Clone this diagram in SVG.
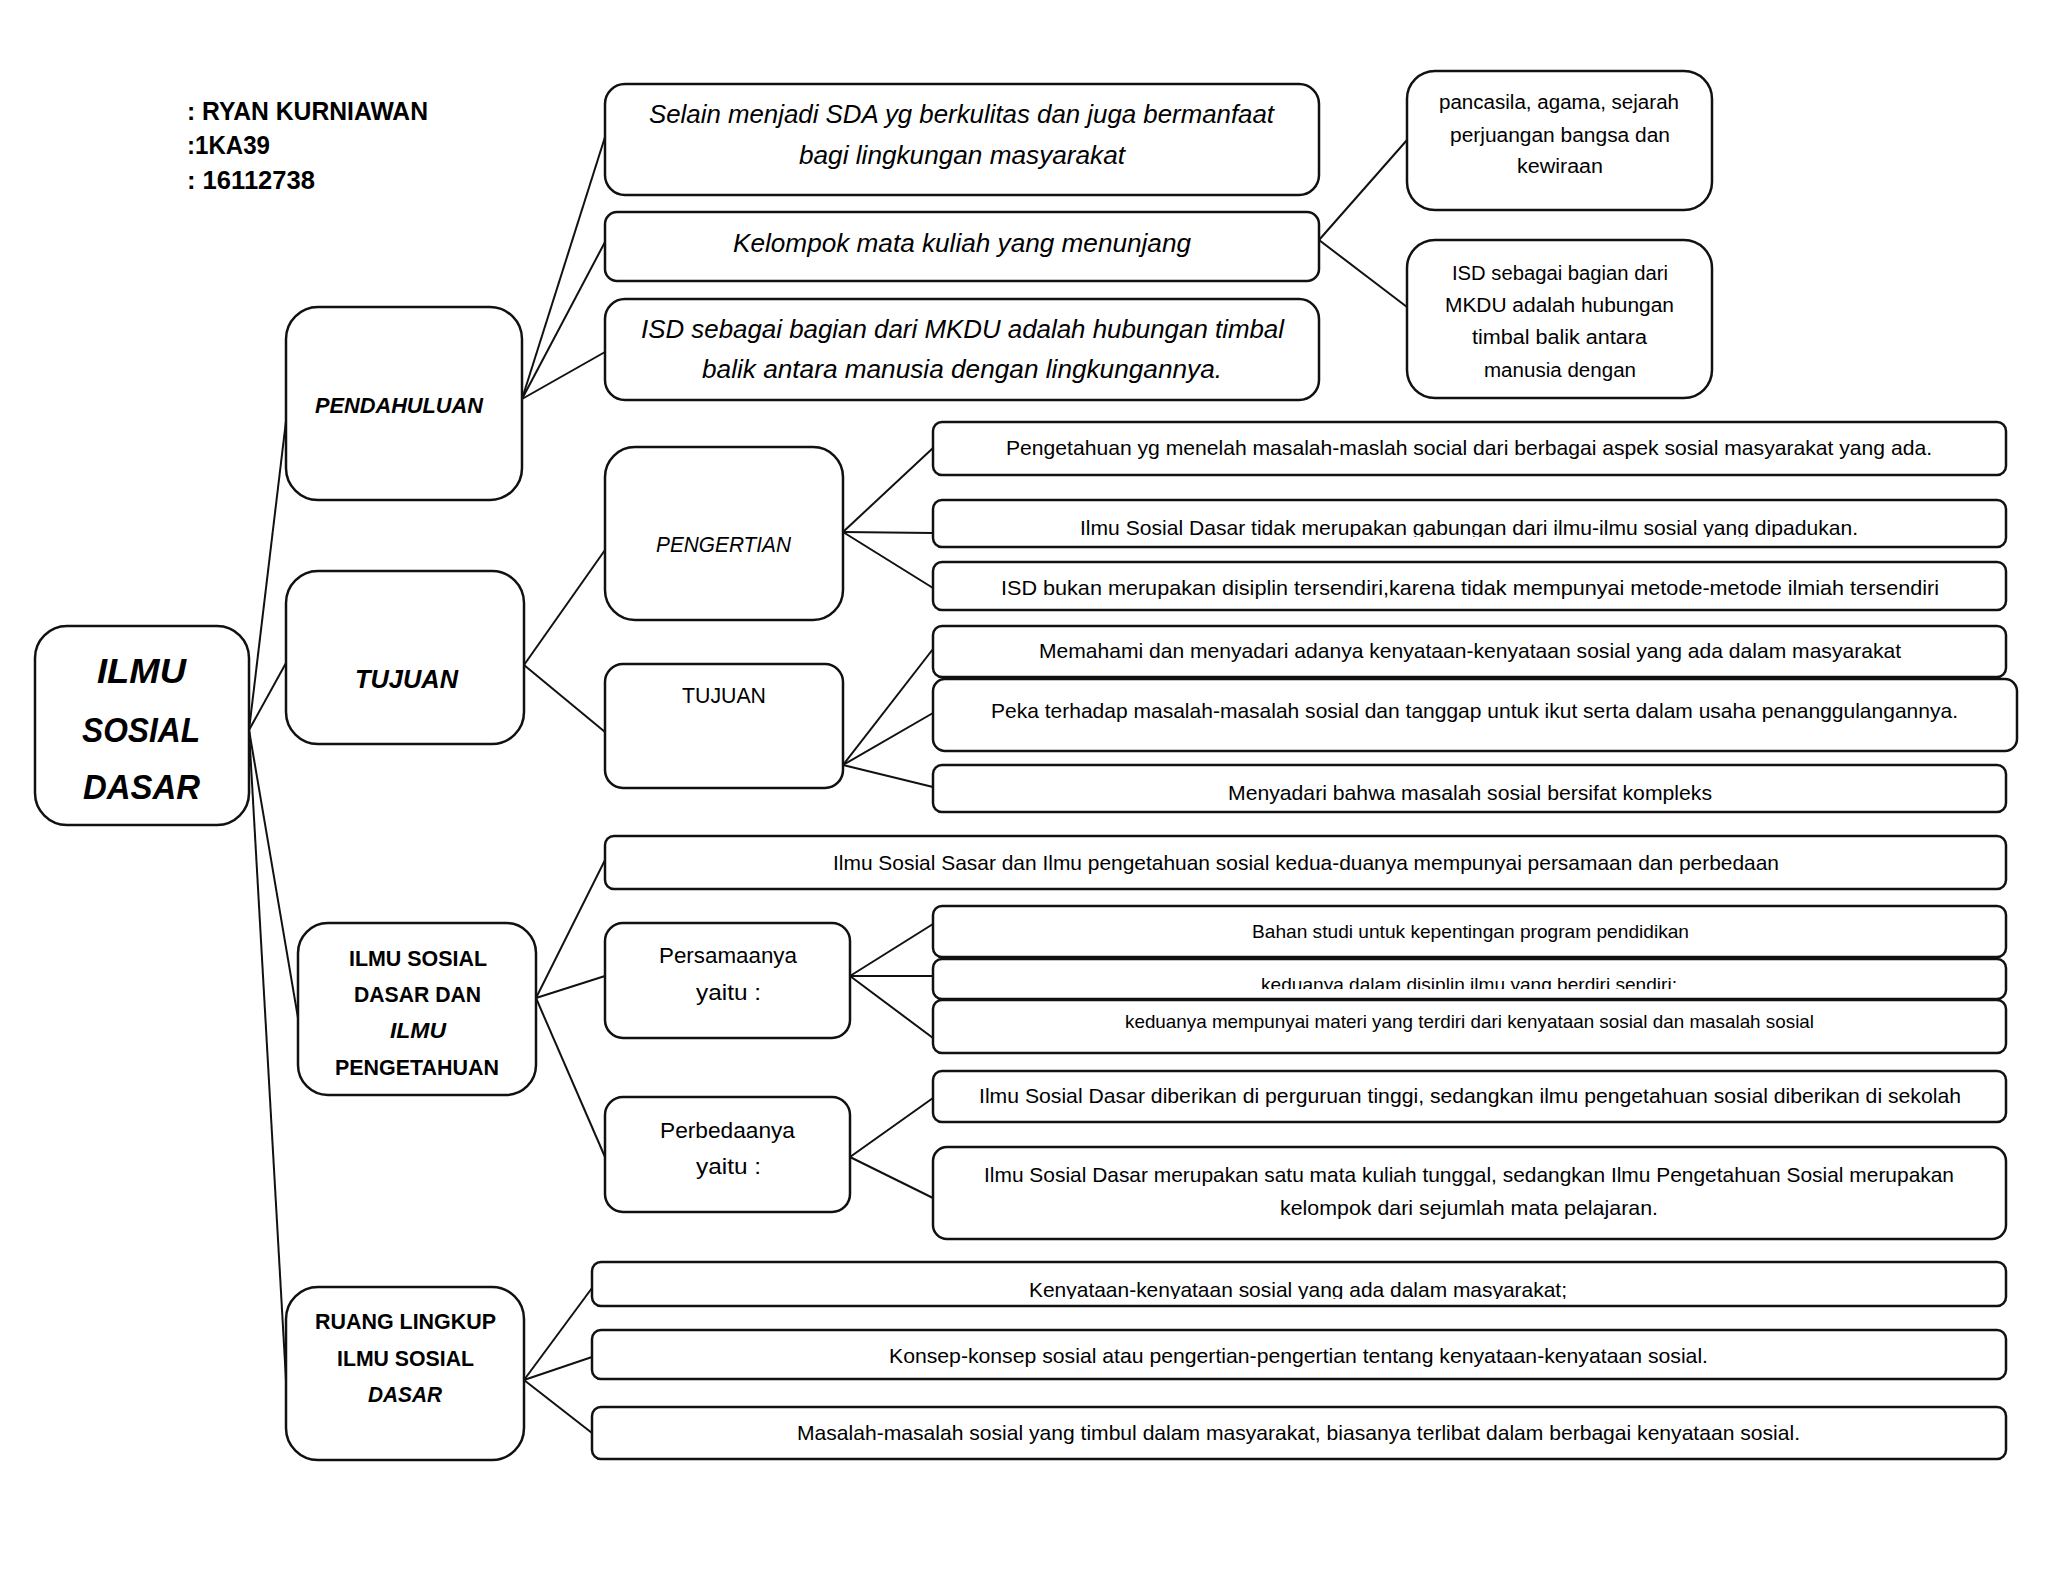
<svg xmlns="http://www.w3.org/2000/svg" width="2048" height="1582" viewBox="0 0 2048 1582">
<style>
.bx{fill:#fff;stroke:#111;stroke-width:2.5}
.ln{stroke:#111;stroke-width:2;fill:none}
text{font-family:"Liberation Sans",Arial,sans-serif;fill:#000}
.hd{font-size:25px;font-weight:bold}
.bi{font-weight:bold;font-style:italic}
.b{font-weight:bold}
.it{font-style:italic}
.t20{font-size:21px}
.t18{font-size:19px}
.t19{font-size:20px}
.t22{font-size:22px}
.t25{font-size:26px}
</style>
<defs>
<clipPath id="cP2"><rect x="933" y="500" width="1073" height="37"/></clipPath>
<clipPath id="cS2"><rect x="933" y="959" width="1073" height="30"/></clipPath>
<clipPath id="cR1"><rect x="592" y="1262" width="1414" height="37"/></clipPath>
</defs>

<g id="header">
<text class="hd" x="187" y="120" textLength="241" lengthAdjust="spacingAndGlyphs">: RYAN KURNIAWAN</text>
<text class="hd" x="187" y="154" textLength="83" lengthAdjust="spacingAndGlyphs">:1KA39</text>
<text class="hd" x="187" y="189" textLength="128" lengthAdjust="spacingAndGlyphs">: 16112738</text>
</g>

<g id="connectors">
<line class="ln" x1="249" y1="730" x2="286" y2="421"/>
<line class="ln" x1="249" y1="730" x2="286" y2="663"/>
<line class="ln" x1="249" y1="730" x2="298" y2="1018"/>
<line class="ln" x1="249" y1="730" x2="286" y2="1380"/>
<line class="ln" x1="522" y1="399" x2="605" y2="137"/>
<line class="ln" x1="522" y1="399" x2="605" y2="242"/>
<line class="ln" x1="522" y1="399" x2="605" y2="352"/>
<line class="ln" x1="1319" y1="240" x2="1407" y2="140"/>
<line class="ln" x1="1319" y1="240" x2="1407" y2="307"/>
<line class="ln" x1="524" y1="665" x2="605" y2="550"/>
<line class="ln" x1="524" y1="665" x2="605" y2="732"/>
<line class="ln" x1="843" y1="532" x2="933" y2="448"/>
<line class="ln" x1="843" y1="532" x2="933" y2="533"/>
<line class="ln" x1="843" y1="532" x2="933" y2="588"/>
<line class="ln" x1="843" y1="765" x2="933" y2="649"/>
<line class="ln" x1="843" y1="765" x2="933" y2="713"/>
<line class="ln" x1="843" y1="765" x2="933" y2="787"/>
<line class="ln" x1="536" y1="998" x2="605" y2="860"/>
<line class="ln" x1="536" y1="998" x2="605" y2="976"/>
<line class="ln" x1="536" y1="998" x2="605" y2="1157"/>
<line class="ln" x1="850" y1="976" x2="933" y2="924"/>
<line class="ln" x1="850" y1="976" x2="933" y2="976"/>
<line class="ln" x1="850" y1="976" x2="933" y2="1038"/>
<line class="ln" x1="850" y1="1157" x2="933" y2="1098"/>
<line class="ln" x1="850" y1="1157" x2="933" y2="1198"/>
<line class="ln" x1="524" y1="1380" x2="592" y2="1288"/>
<line class="ln" x1="524" y1="1380" x2="592" y2="1357"/>
<line class="ln" x1="524" y1="1380" x2="592" y2="1433"/>
</g>

<g id="n-root">
<rect class="bx" x="35" y="626" width="214" height="199" rx="32"/>
<text class="bi" font-size="35" x="97" y="683" textLength="89" lengthAdjust="spacingAndGlyphs">ILMU</text>
<text class="bi" font-size="35" x="82" y="742" textLength="118" lengthAdjust="spacingAndGlyphs">SOSIAL</text>
<text class="bi" font-size="35" x="83" y="799" textLength="117" lengthAdjust="spacingAndGlyphs">DASAR</text>
</g>

<g id="n-pendahuluan">
<rect class="bx" x="286" y="307" width="236" height="193" rx="32"/>
<text class="bi" font-size="22" x="315" y="413" textLength="168" lengthAdjust="spacingAndGlyphs">PENDAHULUAN</text>
</g>

<g id="n-tujuan1">
<rect class="bx" x="286" y="571" width="238" height="173" rx="32"/>
<text class="bi" font-size="26" x="355" y="688" textLength="103" lengthAdjust="spacingAndGlyphs">TUJUAN</text>
</g>

<g id="n-isd-ip">
<rect class="bx" x="298" y="923" width="238" height="172" rx="30"/>
<text class="b" font-size="22" x="349" y="966" textLength="138" lengthAdjust="spacingAndGlyphs">ILMU SOSIAL</text>
<text class="b" font-size="22" x="354" y="1002" textLength="127" lengthAdjust="spacingAndGlyphs">DASAR DAN</text>
<text class="bi" font-size="22" x="390" y="1038" textLength="56" lengthAdjust="spacingAndGlyphs">ILMU</text>
<text class="b" font-size="22" x="335" y="1075" textLength="164" lengthAdjust="spacingAndGlyphs">PENGETAHUAN</text>
</g>

<g id="n-ruang">
<rect class="bx" x="286" y="1287" width="238" height="173" rx="32"/>
<text class="b" font-size="22" x="315" y="1329" textLength="181" lengthAdjust="spacingAndGlyphs">RUANG LINGKUP</text>
<text class="b" font-size="22" x="337" y="1366" textLength="137" lengthAdjust="spacingAndGlyphs">ILMU SOSIAL</text>
<text class="bi" font-size="22" x="368" y="1402" textLength="74" lengthAdjust="spacingAndGlyphs">DASAR</text>
</g>

<g id="n-selain">
<rect class="bx" x="605" y="84" width="714" height="111" rx="20"/>
<text class="it t25" x="649" y="123" textLength="625" lengthAdjust="spacingAndGlyphs">Selain menjadi SDA yg berkulitas dan juga bermanfaat</text>
<text class="it t25" x="799" y="164" textLength="326" lengthAdjust="spacingAndGlyphs">bagi lingkungan masyarakat</text>
</g>

<g id="n-kelompok">
<rect class="bx" x="605" y="212" width="714" height="69" rx="12"/>
<text class="it t25" x="733" y="252" textLength="458" lengthAdjust="spacingAndGlyphs">Kelompok mata kuliah yang menunjang</text>
</g>

<g id="n-isd-mkdu">
<rect class="bx" x="605" y="299" width="714" height="101" rx="20"/>
<text class="it t25" x="641" y="338" textLength="643" lengthAdjust="spacingAndGlyphs">ISD sebagai bagian dari MKDU adalah hubungan timbal</text>
<text class="it t25" x="702" y="378" textLength="520" lengthAdjust="spacingAndGlyphs">balik antara manusia dengan lingkungannya.</text>
</g>

<g id="n-pancasila">
<rect class="bx" x="1407" y="71" width="305" height="139" rx="28"/>
<text class="t19" x="1439" y="109" textLength="240" lengthAdjust="spacingAndGlyphs">pancasila, agama, sejarah</text>
<text class="t19" x="1450" y="142" textLength="220" lengthAdjust="spacingAndGlyphs">perjuangan bangsa dan</text>
<text class="t19" x="1517" y="173" textLength="86" lengthAdjust="spacingAndGlyphs">kewiraan</text>
</g>

<g id="n-isd-sebagai">
<rect class="bx" x="1407" y="240" width="305" height="158" rx="28"/>
<text class="t19" x="1452" y="280" textLength="216" lengthAdjust="spacingAndGlyphs">ISD sebagai bagian dari</text>
<text class="t19" x="1445" y="312" textLength="229" lengthAdjust="spacingAndGlyphs">MKDU adalah hubungan</text>
<text class="t19" x="1472" y="344" textLength="175" lengthAdjust="spacingAndGlyphs">timbal balik antara</text>
<text class="t19" x="1484" y="377" textLength="152" lengthAdjust="spacingAndGlyphs">manusia dengan</text>
</g>

<g id="n-pengertian">
<rect class="bx" x="605" y="447" width="238" height="173" rx="30"/>
<text class="it" font-size="22" x="656" y="552" textLength="135" lengthAdjust="spacingAndGlyphs">PENGERTIAN</text>
</g>

<g id="n-tujuan2">
<rect class="bx" x="605" y="664" width="238" height="124" rx="18"/>
<text font-size="22" x="682" y="703" textLength="84" lengthAdjust="spacingAndGlyphs">TUJUAN</text>
</g>

<g id="n-p1">
<rect class="bx" x="933" y="422" width="1073" height="53" rx="9"/>
<text class="t20" x="1006" y="455" textLength="926" lengthAdjust="spacingAndGlyphs">Pengetahuan yg menelah masalah-maslah social dari berbagai aspek sosial masyarakat yang ada.</text>
</g>

<g id="n-p2">
<rect class="bx" x="933" y="500" width="1073" height="47" rx="9"/>
<text class="t20" x="1080" y="535" textLength="778" lengthAdjust="spacingAndGlyphs" clip-path="url(#cP2)">Ilmu Sosial Dasar tidak merupakan gabungan dari ilmu-ilmu sosial yang dipadukan.</text>
</g>

<g id="n-p3">
<rect class="bx" x="933" y="562" width="1073" height="48" rx="9"/>
<text class="t20" x="1001" y="595" textLength="938" lengthAdjust="spacingAndGlyphs">ISD bukan merupakan disiplin tersendiri,karena tidak mempunyai metode-metode ilmiah tersendiri</text>
</g>

<g id="n-t1">
<rect class="bx" x="933" y="626" width="1073" height="51" rx="9"/>
<text class="t20" x="1039" y="658" textLength="862" lengthAdjust="spacingAndGlyphs">Memahami dan menyadari adanya kenyataan-kenyataan sosial yang ada dalam masyarakat</text>
</g>

<g id="n-t2">
<rect class="bx" x="933" y="679" width="1084" height="72" rx="12"/>
<text class="t20" x="991" y="718" textLength="967" lengthAdjust="spacingAndGlyphs">Peka terhadap masalah-masalah sosial dan tanggap untuk ikut serta dalam usaha penanggulangannya.</text>
</g>

<g id="n-t3">
<rect class="bx" x="933" y="765" width="1073" height="47" rx="9"/>
<text class="t20" x="1228" y="800" textLength="484" lengthAdjust="spacingAndGlyphs">Menyadari bahwa masalah sosial bersifat kompleks</text>
</g>

<g id="n-l1">
<rect class="bx" x="605" y="836" width="1401" height="53" rx="9"/>
<text class="t20" x="833" y="870" textLength="946" lengthAdjust="spacingAndGlyphs">Ilmu Sosial Sasar dan Ilmu pengetahuan sosial kedua-duanya mempunyai persamaan dan perbedaan</text>
</g>

<g id="n-persamaan">
<rect class="bx" x="605" y="923" width="245" height="115" rx="18"/>
<text class="t22" x="659" y="963" textLength="138" lengthAdjust="spacingAndGlyphs">Persamaanya</text>
<text class="t22" x="696" y="1000" textLength="65" lengthAdjust="spacingAndGlyphs">yaitu :</text>
</g>

<g id="n-perbedaan">
<rect class="bx" x="605" y="1097" width="245" height="115" rx="18"/>
<text class="t22" x="660" y="1138" textLength="135" lengthAdjust="spacingAndGlyphs">Perbedaanya</text>
<text class="t22" x="696" y="1174" textLength="65" lengthAdjust="spacingAndGlyphs">yaitu :</text>
</g>

<g id="n-s1">
<rect class="bx" x="933" y="906" width="1073" height="51" rx="9"/>
<text class="t18" x="1252" y="938" textLength="437" lengthAdjust="spacingAndGlyphs">Bahan studi untuk kepentingan program pendidikan</text>
</g>

<g id="n-s2">
<rect class="bx" x="933" y="959" width="1073" height="40" rx="9"/>
<text class="t18" x="1261" y="991" textLength="416" lengthAdjust="spacingAndGlyphs" clip-path="url(#cS2)">keduanya dalam disiplin ilmu yang berdiri sendiri;</text>
</g>

<g id="n-s3">
<rect class="bx" x="933" y="1000" width="1073" height="53" rx="9"/>
<text class="t18" x="1125" y="1028" textLength="689" lengthAdjust="spacingAndGlyphs">keduanya mempunyai materi yang terdiri dari kenyataan sosial dan masalah sosial</text>
</g>

<g id="n-d1">
<rect class="bx" x="933" y="1071" width="1073" height="51" rx="9"/>
<text class="t20" x="979" y="1103" textLength="982" lengthAdjust="spacingAndGlyphs">Ilmu Sosial Dasar diberikan di perguruan tinggi, sedangkan ilmu pengetahuan sosial diberikan di sekolah</text>
</g>

<g id="n-d2">
<rect class="bx" x="933" y="1147" width="1073" height="92" rx="14"/>
<text class="t20" x="984" y="1182" textLength="970" lengthAdjust="spacingAndGlyphs">Ilmu Sosial Dasar merupakan satu mata kuliah tunggal, sedangkan Ilmu Pengetahuan Sosial merupakan</text>
<text class="t20" x="1280" y="1215" textLength="378" lengthAdjust="spacingAndGlyphs">kelompok dari sejumlah mata pelajaran.</text>
</g>

<g id="n-r1">
<rect class="bx" x="592" y="1262" width="1414" height="44" rx="9"/>
<text class="t20" x="1029" y="1297" textLength="538" lengthAdjust="spacingAndGlyphs" clip-path="url(#cR1)">Kenyataan-kenyataan sosial yang ada dalam masyarakat;</text>
</g>

<g id="n-r2">
<rect class="bx" x="592" y="1330" width="1414" height="49" rx="9"/>
<text class="t20" x="889" y="1363" textLength="819" lengthAdjust="spacingAndGlyphs">Konsep-konsep sosial atau pengertian-pengertian tentang kenyataan-kenyataan sosial.</text>
</g>

<g id="n-r3">
<rect class="bx" x="592" y="1407" width="1414" height="52" rx="9"/>
<text class="t20" x="797" y="1440" textLength="1003" lengthAdjust="spacingAndGlyphs">Masalah-masalah sosial yang timbul dalam masyarakat, biasanya terlibat dalam berbagai kenyataan sosial.</text>
</g>
</svg>
